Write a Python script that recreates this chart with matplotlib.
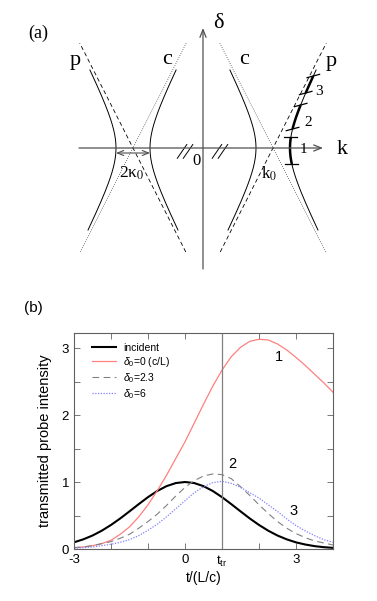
import numpy as np
import matplotlib
matplotlib.use("Agg")
import matplotlib.pyplot as plt

plt.rcParams['font.family'] = 'Liberation Sans'
plt.rcParams['mathtext.fontset'] = 'custom'
plt.rcParams['mathtext.rm'] = 'Liberation Sans'
plt.rcParams['mathtext.it'] = 'Liberation Sans:italic'

# ---------------- panel (b) data ----------------
t = [-3.0, -2.75, -2.5, -2.25, -2.0, -1.75, -1.5, -1.25, -1.0, -0.75, -0.5, -0.25,
     0.0, 0.25, 0.5, 0.75, 1.0, 1.25, 1.5, 1.75, 2.0, 2.25, 2.5, 2.75, 3.0,
     3.25, 3.5, 3.75, 4.0]
incident = [0.10, 0.144, 0.201, 0.273, 0.359, 0.456, 0.562, 0.670, 0.774, 0.866, 0.938, 0.984,
            1.00, 0.984, 0.938, 0.866, 0.774, 0.670, 0.562, 0.456, 0.359, 0.273, 0.201, 0.144, 0.099,
            0.067, 0.043, 0.027, 0.017]
delta0_0 = [0.02, 0.03, 0.05, 0.08, 0.13, 0.22, 0.33, 0.48, 0.66, 0.87, 1.10, 1.35,
            1.60, 1.88, 2.16, 2.43, 2.67, 2.87, 3.01, 3.10, 3.13, 3.12, 3.06, 2.97, 2.86,
            2.74, 2.61, 2.48, 2.34]
delta0_23 = [0.02, 0.03, 0.05, 0.08, 0.11, 0.16, 0.22, 0.31, 0.41, 0.52, 0.65, 0.79,
             0.92, 1.02, 1.09, 1.12, 1.11, 1.05, 0.93, 0.80, 0.66, 0.53, 0.41, 0.31, 0.23,
             0.17, 0.12, 0.09, 0.06]
delta0_6 = [0.01, 0.02, 0.03, 0.05, 0.07, 0.10, 0.14, 0.20, 0.28, 0.37, 0.48, 0.60,
            0.72, 0.84, 0.93, 0.99, 1.01, 0.98, 0.92, 0.84, 0.76, 0.66, 0.56, 0.45, 0.35,
            0.27, 0.20, 0.14, 0.10]
series_labels = ['incident', r'$\delta_0$=0 (c/L)', r'$\delta_0$=2.3', r'$\delta_0$=6']
t_tr = 1.0
xtick_pos = [-3, -2, -1, 0, 1, 2, 3, 4]
xtick_labels = ['-3', '', '', '0', r't$_{\rm tr}$', '', '3', '']
ytick_pos = [0, 0.5, 1, 1.5, 2, 2.5, 3]
ytick_labels = ['0', '', '1', '', '2', '', '3']
curve_tags = ['1', '2', '3']
curve_tag_pos = [(2.53, 2.87), (1.29, 1.27), (2.94, 0.57)]

# ---------------- panel (a) schematic parameters ----------------
K0 = 70.0          # centre of the right crossing (left one mirrored)
KAPPA0 = 17.0      # half gap
SLOPE = 1.97       # asymptote slope
ASYM_RANGE = (-104.0, 105.0)
BRANCH_RANGE = (-82.0, 78.0)
SEGMENTS = [(-16.0, 11.0), (19.0, 43.0), (55.0, 72.0)]
SEG_LABELS = ['1', '2', '3']
SEG_LABEL_POS = [(100.5, -1.5), (105.5, 26.0), (115.5, 56.5)]
BREAKS = [-17.7, 17.2]

fig = plt.figure(figsize=(3.77, 6.01), dpi=100)

# ================= panel (a) =================
axa = fig.add_axes([0, 311 / 601, 1, 290 / 601])
axa.set_xlim(-203, 174)
axa.set_ylim(-142, 148)
axa.axis('off')
gray = '#505050'
serif = 'Liberation Serif'

# axes with open arrow heads
axa.annotate('', xy=(120, 0), xytext=(-124, 0),
             arrowprops=dict(arrowstyle='->,head_length=0.55,head_width=0.22',
                             color=gray, lw=0.9, shrinkA=0, shrinkB=0))
axa.annotate('', xy=(0, 120), xytext=(0, -121),
             arrowprops=dict(arrowstyle='->,head_length=0.55,head_width=0.22',
                             color=gray, lw=0.9, shrinkA=0, shrinkB=0))

d_as = np.linspace(ASYM_RANGE[0], ASYM_RANGE[1], 2)
d_br = np.linspace(BRANCH_RANGE[0], BRANCH_RANGE[1], 200)
for sgn in (1, -1):
    kc = sgn * K0
    # p line (dashed) and c line (dotted)
    axa.plot(kc + sgn * d_as / SLOPE, d_as, color='k', lw=0.6, dashes=(5, 3.5))
    axa.plot(kc - sgn * d_as / SLOPE, d_as, color='k', lw=0.5, dashes=(1, 2.2))
    half = np.sqrt(KAPPA0 ** 2 + (d_br / SLOPE) ** 2)
    axa.plot(kc - half, d_br, color='k', lw=0.7)
    axa.plot(kc + half, d_br, color='k', lw=0.7)

# thick segments on right branch
for i, (d1, d2) in enumerate(SEGMENTS):
    dd = np.linspace(d1, d2, 40)
    kk = K0 + np.sqrt(KAPPA0 ** 2 + (dd / SLOPE) ** 2)
    axa.plot(kk, dd, color='k', lw=1.8, solid_capstyle='butt')
    ang = 0.0 if i == 0 else np.deg2rad(15)
    for d in (d1, d2):
        k = K0 + np.sqrt(KAPPA0 ** 2 + (d / SLOPE) ** 2)
        L = 6.5
        axa.plot([k - L * np.cos(ang), k + L * np.cos(ang)],
                 [d - L * np.sin(ang), d + L * np.sin(ang)], color='k', lw=0.9)
    axa.text(SEG_LABEL_POS[i][0], SEG_LABEL_POS[i][1], SEG_LABELS[i],
             family=serif, fontsize=11, ha='center', va='center')

# 2 kappa0 double arrow
axa.annotate('', xy=(-K0 - KAPPA0, -5), xytext=(-K0 + KAPPA0, -5),
             arrowprops=dict(arrowstyle='<->,head_length=0.45,head_width=0.18',
                             color=gray, lw=0.8, shrinkA=0, shrinkB=0))

# break marks
for c in BREAKS:
    for off in (-3.0, 3.0):
        axa.plot([c + off - 5, c + off + 4.5], [-10.3, 3.5], color='k', lw=0.7)

axa.text(-164.7, 114.7, '(a)', family=serif, fontsize=13, ha='center', va='center')
axa.text(15.3, 124, 'δ', family=serif, fontsize=16, ha='center', va='center')
axa.text(138.7, -1, 'k', family=serif, fontsize=16, ha='center', va='center')
axa.text(-128, 88, 'p', family=serif, fontsize=16, ha='center', va='center')
axa.text(-35.7, 88, 'c', family=serif, fontsize=16, ha='center', va='center')
axa.text(41.3, 88, 'c', family=serif, fontsize=16, ha='center', va='center')
axa.text(128.7, 86.3, 'p', family=serif, fontsize=16, ha='center', va='center')
axa.text(-6.3, -13, '0', family=serif, fontsize=12, ha='center', va='center')
axa.text(66.3, -25.3, r'k$_0$', family=serif, math_fontfamily='stix',
         fontsize=12, ha='center', va='center')
axa.text(-71.3, -25.3, r'2κ$_0$', family=serif, math_fontfamily='stix',
         fontsize=12.5, ha='center', va='center')

# ================= panel (b) =================
ax = fig.add_axes([74 / 377, 52 / 601, 259 / 377, 216 / 601])
ax.set_xlim(-3, 4)
ax.set_ylim(0, 3.224)

ax.plot(t, incident, color='k', lw=1.5, label=series_labels[0])
ax.plot(t, delta0_0, color='#ff8080', lw=0.9, label=series_labels[1])
ax.plot(t, delta0_23, color='#808080', lw=0.8, dashes=(6, 4), label=series_labels[2])
ax.plot(t, delta0_6, color='#8080ff', lw=0.9, dashes=(1, 1.2), label=series_labels[3])
ax.axvline(t_tr, color='#808080', lw=0.9)

for (x, y), s in zip(curve_tag_pos, curve_tags):
    ax.text(x, y, s, fontsize=10.5, ha='center', va='center')

ax.set_xticks(xtick_pos)
ax.set_xticklabels(xtick_labels)
ax.set_yticks(ytick_pos)
ax.set_yticklabels(ytick_labels)
ax.tick_params(direction='in', top=True, right=True, length=4, width=0.6,
               color='#606060', labelsize=9.5, pad=3.5)
for sp in ax.spines.values():
    sp.set_color('#606060')
    sp.set_linewidth(0.8)

ax.set_xlabel('t/(L/c)', fontsize=10)
ax.xaxis.set_label_coords(0.5, -0.1)
ax.set_ylabel('transmitted probe intensity', fontsize=10.5)
ax.yaxis.set_label_coords(-0.085, 0.5)

leg = ax.legend(loc='upper left', bbox_to_anchor=(0.07, 0.955), frameon=False,
                fontsize=7.5, handlelength=2.3, handletextpad=0.7,
                labelspacing=0.2, borderpad=0, borderaxespad=0)

fig.text(33 / 377, 1 - 308 / 601, '(b)', fontsize=11, ha='center', va='center')

fig.savefig('out.png', dpi=100)
